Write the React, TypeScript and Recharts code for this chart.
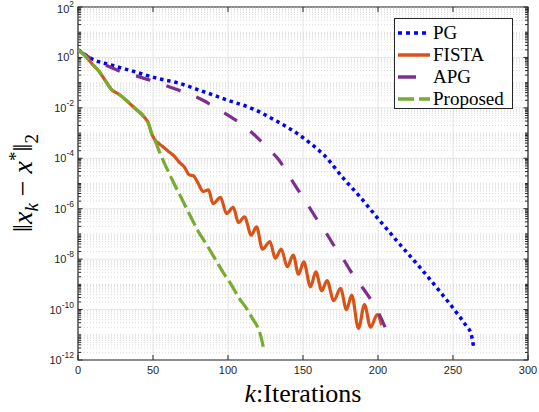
import React from "react";
import {
  LineChart,
  Line,
  XAxis,
  YAxis,
  CartesianGrid,
  ReferenceLine,
  ReferenceArea,
} from "recharts";

// values are log10 of the error
const PG_ITER = [0, 10, 22, 38, 53, 66, 81, 100, 117, 131, 146, 155, 164, 177, 188, 199, 217, 228, 242, 252, 259, 262, 264];
const PG_LOG = [0.3, -0.08, -0.3, -0.57, -0.83, -1.0, -1.3, -1.7, -2.05, -2.48, -3.01, -3.41, -3.87, -4.8, -5.53, -6.32, -7.58, -8.33, -9.34, -10.09, -10.66, -10.95, -11.58];

const FISTA_ITER = [0, 5, 9, 14, 18, 22, 28, 34, 38, 44, 47, 49, 51, 54, 57, 61, 64, 67, 71, 74, 77, 80, 83.5, 87, 90, 95, 99, 103.5, 107, 111, 115.5, 119, 123, 128, 131.5, 135.5, 139.5, 143.5, 147, 150.5, 155, 158.5, 162.5, 166, 170.5, 175, 179, 182.5, 187, 191, 195, 199.5, 202.4];
const FISTA_LOG = [0.3, 0.05, -0.23, -0.55, -0.9, -1.25, -1.49, -1.8, -2.02, -2.35, -2.62, -3.0, -3.25, -3.42, -3.56, -3.76, -3.9, -4.12, -4.35, -4.65, -4.7, -4.98, -5.32, -5.25, -5.8, -5.55, -6.19, -5.95, -6.55, -6.32, -7.05, -6.72, -7.6, -7.3, -7.97, -7.6, -8.3, -7.84, -8.6, -8.11, -9.1, -8.5, -9.25, -8.85, -9.65, -9.16, -10.0, -9.43, -10.75, -9.8, -10.7, -10.2, -10.62];

const APG_ITER = [0, 4, 21, 29, 41, 51, 62, 83, 91, 101, 110, 119, 126, 134, 140, 146, 152, 158, 164, 170, 176, 182, 188, 195, 200, 205, 208];
const APG_LOG = [0.3, 0.13, -0.37, -0.57, -0.77, -0.96, -1.19, -1.69, -1.96, -2.33, -2.68, -3.15, -3.57, -4.07, -4.63, -5.19, -5.73, -6.3, -6.82, -7.4, -7.91, -8.5, -8.99, -9.59, -10.09, -10.75, -11.32];

const PROP_ITER = [0, 5, 9, 14, 18, 22, 28, 34, 38, 44, 47, 49, 51, 55, 60, 64, 70, 75, 80, 86, 92, 97, 101, 108, 112, 117, 120, 122.5, 123.5];
const PROP_LOG = [0.3, 0.05, -0.23, -0.55, -0.9, -1.25, -1.49, -1.8, -2.02, -2.35, -2.62, -3.0, -3.25, -3.85, -4.5, -5.0, -5.7, -6.3, -6.88, -7.45, -8.05, -8.55, -8.9, -9.6, -9.92, -10.42, -10.72, -11.2, -11.48];

const X_TICKS = [0, 50, 100, 150, 200, 250, 300];
const Y_TICKS = [-12, -10, -8, -6, -4, -2, 0, 2];

const toRows = (xs: number[], ys: number[]) => xs.map((x, i) => ({ x, y: ys[i] }));

const SERIES = [
  { name: "PG", data: toRows(PG_ITER, PG_LOG), color: "#0000ff", dash: "3.5 3.8", legendDash: "4 4", width: 3.5 },
  { name: "FISTA", data: toRows(FISTA_ITER, FISTA_LOG), color: "#d95319", dash: undefined, legendDash: undefined, width: 3.2 },
  { name: "APG", data: toRows(APG_ITER, APG_LOG), color: "#7e2f8e", dash: "15 17", legendDash: "18 20", width: 3.2 },
  { name: "Proposed", data: toRows(PROP_ITER, PROP_LOG), color: "#77ac30", dash: "15 5", legendDash: "16 5", width: 3.2 },
];

// minor decade positions (2..9 in every decade, plus odd decades)
const MINOR: number[] = [];
for (let n = -12; n < 2; n++) {
  for (let k = 1; k <= 9; k++) {
    if (k === 1 && n % 2 === 0) continue;
    MINOR.push(n + Math.log10(k));
  }
}

const INK = "#262626";

function YTick({ x, y, payload }: any) {
  return (
    <text x={x} y={y} dy={4} textAnchor="end" fill={INK} fontSize={11} fontFamily="Liberation Sans, Arial">
      10
      <tspan dy={-6} fontSize={8.5}>
        {payload.value}
      </tspan>
    </text>
  );
}

function LegendBox() {
  return (
    <div
      style={{
        position: "absolute",
        left: 394,
        top: 18,
        width: 117,
        height: 89,
        border: "1px solid #262626",
        background: "#fff",
        fontFamily: "Liberation Serif, serif",
        fontSize: 19,
        color: "#000",
      }}
    >
      {SERIES.map((s, i) => (
        <div key={s.name} style={{ position: "absolute", left: 2, top: 3 + i * 22, height: 22, display: "flex", alignItems: "center", whiteSpace: "nowrap" }}>
          <svg width={34} height={10}>
            <line x1={1} y1={5} x2={33} y2={5} stroke={s.color} strokeWidth={3.5} strokeDasharray={s.legendDash} />
          </svg>
          <span style={{ marginLeft: 2 }}>{s.name}</span>
        </div>
      ))}
    </div>
  );
}

export default function App() {
  return (
    <div style={{ position: "absolute", left: 0, top: 0, width: 539, height: 412, background: "#fff" }}>
      <LineChart width={539} height={412} margin={{ top: 7, right: 11, left: 0, bottom: 0 }}>
        <CartesianGrid stroke="#e6e6e6" />
        <XAxis
          type="number"
          dataKey="x"
          domain={[0, 300]}
          ticks={X_TICKS}
          height={52}
          axisLine={false}
          tickLine={false}
          tickSize={4}
          tickMargin={2}
          tick={{ fill: INK, fontSize: 11, fontFamily: "Liberation Sans, Arial" }}
          allowDataOverflow
          label={{
            content: () => (
              <text x={303} y={402} textAnchor="middle" fontFamily="Liberation Serif, serif" fontSize={26} fill="#000">
                <tspan fontStyle="italic">k</tspan>:Iterations
              </text>
            ),
          }}
        />
        <YAxis
          type="number"
          dataKey="y"
          domain={[-12, 2]}
          ticks={Y_TICKS}
          width={78}
          axisLine={false}
          tickLine={false}
          tickSize={3}
          tickMargin={1}
          tick={<YTick />}
          allowDataOverflow
          label={{
            content: () => (
              <text transform="translate(32,183) rotate(-90)" textAnchor="middle" fontFamily="Liberation Serif, serif" fontSize={28} fill="#000">
                ‖<tspan fontStyle="italic">x</tspan>
                <tspan fontSize={19} dy={6} fontStyle="italic">k</tspan>
                <tspan dy={-6}> − </tspan>
                <tspan fontStyle="italic">x</tspan>
                <tspan fontSize={19} dy={-10}>*</tspan>
                <tspan dy={10}>‖</tspan>
                <tspan fontSize={19} dy={6}>2</tspan>
              </text>
            ),
          }}
        />
        {MINOR.map((v) => (
          <ReferenceLine key={"g" + v} y={v} stroke="#dcdcdc" strokeDasharray="1 2" />
        ))}
        {MINOR.map((v) => (
          <ReferenceLine key={"l" + v} segment={[{ x: 0, y: v }, { x: 2, y: v }]} stroke={INK} />
        ))}
        {MINOR.map((v) => (
          <ReferenceLine key={"r" + v} segment={[{ x: 298, y: v }, { x: 300, y: v }]} stroke={INK} />
        ))}
        {Y_TICKS.map((v) => (
          <ReferenceLine key={"L" + v} segment={[{ x: 0, y: v }, { x: 3, y: v }]} stroke={INK} />
        ))}
        {Y_TICKS.map((v) => (
          <ReferenceLine key={"R" + v} segment={[{ x: 297, y: v }, { x: 300, y: v }]} stroke={INK} />
        ))}
        {X_TICKS.map((v) => (
          <ReferenceLine key={"B" + v} segment={[{ x: v, y: -12 }, { x: v, y: -11.8 }]} stroke={INK} />
        ))}
        {X_TICKS.map((v) => (
          <ReferenceLine key={"T" + v} segment={[{ x: v, y: 2 }, { x: v, y: 1.8 }]} stroke={INK} />
        ))}
        {SERIES.map((s) => (
          <Line
            key={s.name}
            data={s.data}
            dataKey="y"
            type="monotone"
            stroke={s.color}
            strokeWidth={s.width}
            strokeDasharray={s.dash}
            dot={false}
            activeDot={false}
            isAnimationActive={false}
          />
        ))}
        <ReferenceArea x1={0} x2={300} y1={-12} y2={2} fill="none" fillOpacity={0} stroke={INK} strokeWidth={1.2} />
      </LineChart>
      <LegendBox />
    </div>
  );
}
